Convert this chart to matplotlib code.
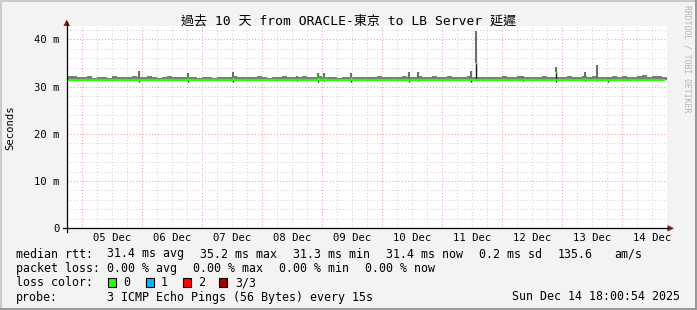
import numpy as np
import matplotlib
matplotlib.use('Agg')
import matplotlib.pyplot as plt
from matplotlib.lines import Line2D
from matplotlib.patches import Polygon, Rectangle

# ---------------- data ----------------
title = "過去 10 天 from ORACLE-東京 to LB Server 延遲"
day_labels = ["05 Dec", "06 Dec", "07 Dec", "08 Dec", "09 Dec",
              "10 Dec", "11 Dec", "12 Dec", "13 Dec", "14 Dec"]
y_ticks = [0, 10, 20, 30, 40]
y_tick_labels = ["0", "10 m", "20 m", "30 m", "40 m"]

# 2-hour bins over the 10-day window (hours since Dec 4 18:00:54)
median_ms = [
    31.4, 31.4, 31.4, 31.4, 31.4, 31.4, 31.4, 31.4, 31.4, 31.4, 31.4, 31.4,
    31.4, 31.4, 31.4, 31.4, 31.4, 31.4, 31.4, 31.4, 31.4, 31.4, 31.4, 31.4,
    31.4, 31.4, 31.4, 31.4, 31.4, 31.4, 31.4, 31.4, 31.4, 31.4, 31.4, 31.4,
    31.4, 31.4, 31.4, 31.4, 31.4, 31.4, 31.4, 31.4, 31.4, 31.4, 31.4, 31.4,
    31.4, 31.4, 31.4, 31.4, 31.4, 31.4, 31.4, 31.4, 31.4, 31.4, 31.4, 31.4,
    31.4, 31.4, 31.4, 31.4, 31.4, 31.4, 31.4, 31.4, 31.4, 31.4, 31.4, 31.4,
    31.4, 31.4, 31.4, 31.4, 31.4, 31.4, 31.4, 31.4, 31.4, 31.4, 31.4, 31.4,
    31.4, 31.4, 31.4, 31.4, 31.4, 31.4, 31.4, 31.4, 31.4, 31.4, 31.4, 31.4,
    31.4, 31.4, 31.4, 31.4, 31.4, 31.4, 31.4, 31.4, 31.4, 31.4, 31.4, 31.4,
    31.4, 31.4, 31.4, 31.4, 31.4, 31.4, 31.4, 31.4, 31.4, 31.4, 31.4, 31.4,
]
smoke_top_ms = [
    32.2, 32.2, 32.1, 32.0, 32.2, 31.9, 32.1, 32.0, 31.9, 32.2, 32.0, 32.1,
    32.0, 32.3, 32.1, 32.0, 32.2, 32.1, 31.9, 32.1, 32.2, 32.0, 32.1, 32.0,
    32.1, 32.0, 31.9, 32.0, 32.1, 31.9, 32.0, 32.1, 32.0, 32.2, 32.0, 32.1,
    32.0, 32.1, 32.2, 32.0, 31.9, 32.1, 32.0, 32.2, 32.1, 32.0, 32.1, 32.2,
    32.0, 32.1, 32.2, 32.0, 32.1, 32.0, 31.9, 32.1, 32.0, 32.0, 32.1, 32.0,
    32.1, 32.0, 32.2, 32.1, 32.0, 32.1, 32.0, 32.2, 32.0, 32.1, 32.2, 32.0,
    32.1, 32.2, 32.0, 32.1, 32.3, 32.1, 32.0, 32.1, 32.2, 32.1, 32.0, 32.1,
    32.1, 32.0, 32.1, 32.2, 32.0, 32.1, 32.2, 32.1, 32.0, 32.1, 32.0, 32.2,
    32.1, 32.0, 32.1, 32.0, 32.2, 32.1, 32.0, 32.2, 32.1, 32.3, 32.1, 32.0,
    32.1, 32.2, 32.1, 32.3, 32.0, 32.1, 32.2, 32.4, 32.1, 32.2, 32.3, 32.1,
]
spike_hours = [29.0, 48.6, 66.6, 92.0, 100.4, 102.8, 113.6, 137.0, 140.6,
               161.6, 163.7, 182.7, 195.8, 207.2, 212.0, 216.4]
spike_max = [33.3, 32.8, 33.0, 32.2, 32.8, 32.8, 32.8, 33.0, 33.0,
             33.3, 41.7, 32.2, 34.1, 33.0, 34.5, 31.8]
spike_median = [31.4, 31.8, 31.8, 31.5, 31.8, 31.8, 31.7, 31.4, 31.6,
                31.6, 35.0, 31.6, 33.1, 31.8, 31.6, 31.4]
spike_min = [30.9, 31.0, 31.0, 31.2, 31.0, 31.1, 31.0, 30.9, 31.1,
             31.0, 31.4, 31.1, 31.0, 31.1, 31.1, 30.9]

loss_labels = ["0", "1", "2", "3/3"]
loss_colors = ["#26ff00", "#00b8ff", "#ff0000", "#a10000"]

# ---------------- layout helpers ----------------
W, H = 697, 310
def fx(x): return x / W
def fy(y): return 1 - y / H

MONO = ['DejaVu Sans Mono', 'Noto Sans CJK TC']
fig = plt.figure(figsize=(W / 100, H / 100), dpi=100)
fig.patch.set_facecolor('#f3f3f3')

x0, x1, ytop, ybot = 66.7, 666.7, 26.0, 228.3
ax = fig.add_axes([fx(x0), fy(ybot), (x1 - x0) / W, (ybot - ytop) / H])
ax.set_facecolor('white')
ax.set_xlim(0, 240)
ax.set_ylim(0, 42.8)
for s in ax.spines.values():
    s.set_visible(False)

first_midnight = 5.985
midnights = [first_midnight + 24 * i for i in range(10)]
noons = [m + 12 for m in midnights]

# grid
for h in np.arange(first_midnight - 18, 240, 6):
    if h <= 0:
        continue
    major = any(abs(h - m) < 1e-6 for m in midnights)
    ax.axvline(h, color='#f2a0a0' if major else '#d4d4d4', lw=0.75,
               ls=(0, (1, 2)), zorder=0.5)
for v in range(2, 43, 2):
    major = v % 10 == 0
    ax.axhline(v, color='#f2a0a0' if major else '#d4d4d4', lw=0.75,
               ls=(0, (1, 2)), zorder=0.5)

# smoke
centers = np.arange(len(median_ms)) * 2 + 1
med = np.array(median_ms)
top = np.array(smoke_top_ms)
ax.bar(centers, top - med, bottom=med, width=2, color='#7c7c7c',
       linewidth=0, zorder=2)

# spikes
ax.vlines(spike_hours, spike_median, spike_max, color='#6e6e6e', lw=1.5, zorder=3)
ax.vlines(spike_hours, spike_min, spike_median, color='#111111', lw=1.0, zorder=4)

# median line
edges = np.append(np.arange(len(median_ms)) * 2, 239.3)
ax.stairs(median_ms, edges, baseline=None, color='#26ff00', lw=1.6, zorder=5)
ax.plot(spike_hours, spike_median, ls='none', marker='s', ms=2.0,
        color='#26ff00', mec='none', zorder=6)

# ticks / labels
ax.set_xticks(noons)
ax.set_xticklabels(day_labels, family=MONO, fontsize=7.6)
ax.set_yticks(y_ticks)
ax.set_yticklabels(y_tick_labels, family=MONO, fontsize=7.6)
ax.tick_params(axis='x', length=0, pad=3.4)
ax.tick_params(axis='y', length=0, pad=5.2)

# axes lines and arrows
fig.add_artist(Line2D([fx(63), fx(668)], [fy(ybot), fy(ybot)], color='black', lw=0.9))
fig.add_artist(Line2D([fx(x0), fx(x0)], [fy(232), fy(22)], color='black', lw=0.9))
arrow_c = '#8b1d1d'
fig.add_artist(Polygon([(fx(667.5), fy(225)), (fx(667.5), fy(231.6)), (fx(674), fy(ybot))],
                       closed=True, color=arrow_c, lw=0))
fig.add_artist(Polygon([(fx(63.4), fy(26)), (fx(70.0), fy(26)), (fx(x0), fy(19.5))],
                       closed=True, color=arrow_c, lw=0))

# title and side texts
fig.text(fx(349), fy(21.5), title, ha='center', va='center', fontsize=9.4, family=MONO)
fig.text(fx(10), fy(128), "Seconds", rotation=90, ha='center', va='center',
         fontsize=7.6, family=MONO)
fig.text(fx(687), fy(5), "RRDTOOL / TOBI OETIKER", rotation=270, ha='center', va='top',
         fontsize=5.9, family=MONO, color='#b4b4b4')

# legend
LF = 8.4
def lt(x, y, s, **kw):
    fig.text(fx(x), fy(y), s, ha=kw.pop('ha', 'left'), va='center', fontsize=LF,
             family=MONO, **kw)

y1, y2, y3, y4 = 254, 268.5, 282.5, 297
lt(16, y1, "median rtt:")
for x, s in zip([107, 200, 293, 386, 479, 558, 614],
                ["31.4 ms avg", "35.2 ms max", "31.3 ms min", "31.4 ms now",
                 "0.2 ms sd", "135.6", "am/s"]):
    lt(x, y1, s)
lt(16, y2, "packet loss:")
for x, s in zip([107, 193, 279, 365],
                ["0.00 % avg", "0.00 % max", "0.00 % min", "0.00 % now"]):
    lt(x, y2, s)
lt(16, y3, "loss color:")
for bx, tx, lab, col in zip([108, 146, 183, 219], [123, 161, 198, 235],
                            loss_labels, loss_colors):
    fig.add_artist(Rectangle((fx(bx), fy(286.5)), 8 / W, 8.5 / H, facecolor=col,
                             edgecolor='black', lw=0.8))
    lt(tx, y3, lab)
lt(16, y4, "probe:")
lt(107, y4, "3 ICMP Echo Pings (56 Bytes) every 15s")
lt(680, y4, "Sun Dec 14 18:00:54 2025", ha='right')

# 3D border
fig.add_artist(Line2D([0, 1], [fy(1), fy(1)], color='#cbcbcb', lw=1.5))
fig.add_artist(Line2D([fx(1), fx(1)], [0, 1], color='#cbcbcb', lw=1.5))
fig.add_artist(Line2D([0, 1], [fy(308.5), fy(308.5)], color='#999999', lw=2.2))
fig.add_artist(Line2D([fx(695.5), fx(695.5)], [0, 1], color='#999999', lw=2.2))

fig.savefig('out.png', dpi=100, facecolor=fig.get_facecolor())
